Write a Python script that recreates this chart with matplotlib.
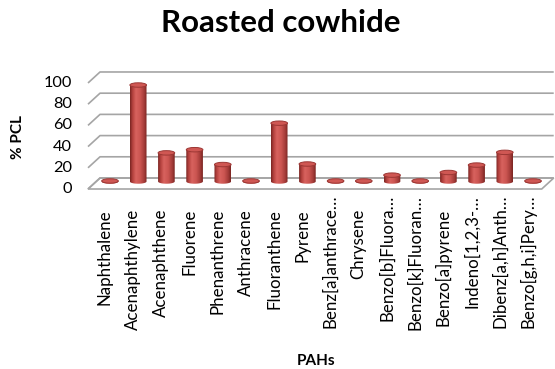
import numpy as np
import matplotlib
matplotlib.use("Agg")
import matplotlib.pyplot as plt
from matplotlib.patches import Ellipse, PathPatch, Polygon
from matplotlib.path import Path
from matplotlib.colors import LinearSegmentedColormap

plt.rcParams['font.family'] = ['Lato', 'DejaVu Sans']

# Dados do gráfico
compostos = ["Naphthalene", "Acenaphthylene", "Acenaphthene", "Fluorene",
             "Phenanthrene", "Anthracene", "Fluoranthene", "Pyrene",
             "Benz[a]anthrace…", "Chrysene", "Benzo[b]Fluora…",
             "Benzo[k]Fluoran…", "Benzo[a]pyrene", "Indeno[1,2,3-…",
             "Dibenz[a,h]Anth…", "Benzo[g,h,i]Pery…"]
pcl = [0.5, 91, 27, 30, 16, 0.5, 55, 16.5, 0.5, 0.5, 6, 0.5, 8.5, 15.5, 27.5, 0.5]
y_ticks = [0, 20, 40, 60, 80, 100]

# Geometria do "3D" (em unidades de dados)
w = 0.295        # meia largura do cilindro
ry = 2.1         # meia altura da elipse
fdx, fdy = -0.291, -7.08   # deslocamento do plano da frente
bdx, bdy = 0.135, 3.3      # deslocamento da parede do fundo
x_l, x_r = -0.489, 15.60

fig = plt.figure(figsize=(5.55, 3.69), dpi=100)
ax = fig.add_axes([60 / 555, 169 / 369, 495 / 555, 140 / 369])
ax.set_xlim(-1.773, 15.78)
ax.set_ylim(-17.45, 114.6)
ax.axis('off')

# Chão
chao = Polygon([(x_l + fdx, fdy), (x_r + fdx, fdy), (x_r + bdx, bdy), (x_l + bdx, bdy)],
               closed=True, fc='white', ec='#a5a5a5', lw=1.2, zorder=1)
ax.add_patch(chao)

# Linhas de grade na parede lateral e do fundo
for v in y_ticks:
    ax.plot([x_l + fdx, x_l + bdx, x_r + bdx], [v + fdy, v + bdy, v + bdy],
            color='#a5a5a5', lw=1.2, zorder=2, solid_capstyle='butt')
    ax.text(-1.348, v + fdy, str(v), ha='right', va='center', fontsize=11.8,
            color='black', clip_on=False)

# Cilindros
cil = LinearSegmentedColormap.from_list('cil', [
    (0.0, '#7a2522'), (0.15, '#b5423e'), (0.35, '#d8625e'),
    (0.6, '#cc5652'), (0.85, '#a33b38'), (1.0, '#7a2522')])
grad = np.linspace(0, 1, 64)[np.newaxis, :]

for i, v in enumerate(pcl):
    t = np.linspace(np.pi, 2 * np.pi, 40)
    verts = [(i + w * np.cos(a), ry * np.sin(a)) for a in t]
    verts += [(i + w, v), (i - w, v), verts[0]]
    corpo = PathPatch(Path(verts), transform=ax.transData, fc='none', ec='none')
    im = ax.imshow(grad, extent=(i - w, i + w, -ry, v), aspect='auto', cmap=cil,
                   zorder=3, interpolation='bilinear')
    im.set_clip_path(corpo)
    topo = Ellipse((i, v), 2 * w, 2 * ry, fc='#cf5753', ec='#9c3734', lw=0.7, zorder=4)
    ax.add_patch(topo)

ax.set_xlim(-1.773, 15.78)
ax.set_ylim(-17.45, 114.6)

# Rótulos das categorias
for i, nome in enumerate(compostos):
    y0 = -12.7 if nome.endswith('…') else -25.9
    ax.text(i - 0.18, y0, nome, rotation=90, ha='center', va='top', fontsize=12.2,
            clip_on=False)

fig.text(281 / 555, 1 - 23 / 369, 'Roasted cowhide', ha='center', va='center',
         fontsize=22.5, fontweight='bold')
fig.text(18.5 / 555, 1 - 137 / 369, '% PCL', rotation=90, ha='center', va='center',
         fontsize=11, fontweight='bold')
fig.text(316 / 555, 1 - 361 / 369, 'PAHs', ha='center', va='center',
         fontsize=11, fontweight='bold')

fig.savefig('out.png', dpi=100)
